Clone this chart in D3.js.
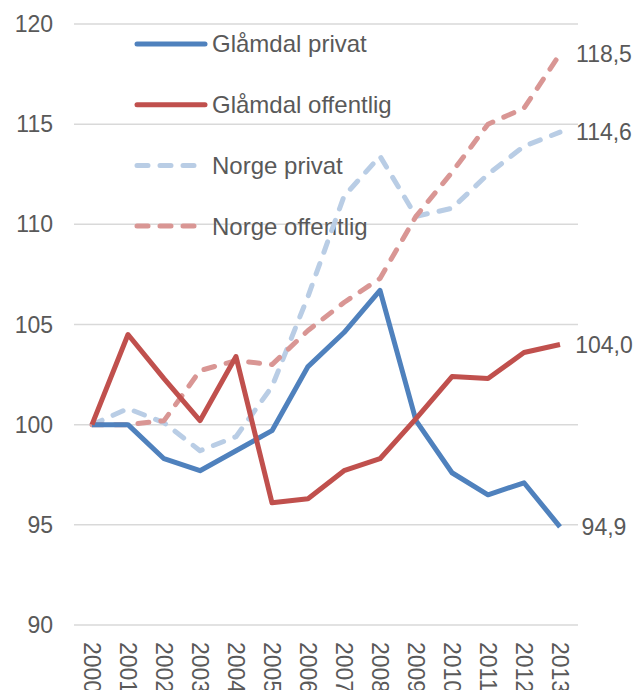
<!DOCTYPE html>
<html>
<head>
<meta charset="utf-8">
<script src="https://cdn.jsdelivr.net/npm/d3@7"></script>
<style>
  html, body { margin: 0; padding: 0; background: #fff; }
  svg { display: block; }
  text { font-family: "Liberation Sans", Arial, sans-serif; fill: #595959; }
</style>
</head>
<body>
<script>
const years = ["2000","2001","2002","2003","2004","2005","2006","2007","2008","2009","2010","2011","2012","2013"];
const glamdalPrivat    = [100, 100, 98.3, 97.7, 98.7, 99.7, 102.9, 104.6, 106.7, 100.2, 97.6, 96.5, 97.1, 94.9];
const glamdalOffentlig = [100, 104.5, 102.3, 100.2, 103.4, 96.1, 96.3, 97.7, 98.3, 100.3, 102.4, 102.3, 103.6, 104.0];
const norgePrivat      = [100, 100.8, 100.1, 98.7, 99.4, 101.9, 106.4, 111.4, 113.4, 110.4, 110.8, 112.5, 113.9, 114.6];
const norgeOffentlig   = [100, 100, 100.2, 102.7, 103.2, 103.0, 104.7, 106.1, 107.3, 110.4, 112.6, 115.0, 115.8, 118.5];
const yTicks = [90, 95, 100, 105, 110, 115, 120];
const seriesNames = ["Glåmdal privat", "Glåmdal offentlig", "Norge privat", "Norge offentlig"];
const endLabels = ["94,9", "104,0", "114,6", "118,5"];

const W = 637, H = 690;
const svg = d3.select("body").append("svg").attr("width", W).attr("height", H);

const x = d3.scaleBand().domain(years).range([74, 578]);
const y = d3.scaleLinear().domain([90, 120]).range([625, 24]);
const cx = d => x(d) + x.bandwidth() / 2;

// gridlines
svg.append("g").selectAll("line").data(yTicks).join("line")
  .attr("x1", 74).attr("x2", 578)
  .attr("y1", d => y(d)).attr("y2", d => y(d))
  .attr("stroke", "#d9d9d9").attr("stroke-width", 1.5);

// y tick labels
svg.append("g").selectAll("text").data(yTicks).join("text")
  .attr("x", 53).attr("y", d => y(d)).attr("dy", "0.35em")
  .attr("text-anchor", "end").attr("font-size", 23)
  .text(d => d);

// x tick labels (rotated)
svg.append("g").selectAll("text").data(years).join("text")
  .attr("transform", d => `translate(${cx(d)},642) rotate(90)`)
  .attr("dy", "0.35em").attr("font-size", 23)
  .text(d => d);

const series = [
  { name: seriesNames[0], values: glamdalPrivat, color: "#4f81bd", dash: null, label: endLabels[0] },
  { name: seriesNames[1], values: glamdalOffentlig, color: "#c0504d", dash: null, label: endLabels[1] },
  { name: seriesNames[2], values: norgePrivat, color: "#b9cde5", dash: "11,12", label: endLabels[2] },
  { name: seriesNames[3], values: norgeOffentlig, color: "#d99694", dash: "11,12", label: endLabels[3] }
];

const line = d3.line().x((d, i) => cx(years[i])).y(d => y(d));

// legend
const lg = svg.append("g");
series.forEach((s, i) => {
  const ly = 44 + i * 60.7;
  lg.append("line").attr("x1", 137).attr("x2", 205).attr("y1", ly).attr("y2", ly)
    .attr("stroke", s.color).attr("stroke-width", 5).attr("stroke-linecap", "round")
    .attr("stroke-dasharray", s.dash);
  lg.append("text").attr("x", 212).attr("y", ly).attr("dy", "0.35em")
    .attr("font-size", 24).text(s.name);
});

// lines (draw dashed first, solids on top in order of reference)
const drawOrder = [3, 2, 0, 1];
const order = [2, 3, 0, 1];
order.forEach(i => {
  const s = series[i];
  svg.append("path").datum(s.values)
    .attr("d", line).attr("fill", "none")
    .attr("stroke", s.color).attr("stroke-width", 5)
    .attr("stroke-linejoin", "round")
    .attr("stroke-linecap", s.dash ? "round" : "butt")
    .attr("stroke-dasharray", s.dash);
});

// end labels
series.forEach(s => {
  const v = s.values[s.values.length - 1];
  svg.append("text").attr("x", cx(years[years.length - 1]) + 44).attr("y", y(v))
    .attr("dy", "0.35em").attr("text-anchor", "middle").attr("font-size", 23)
    .text(s.label);
});
</script>
</body>
</html>
